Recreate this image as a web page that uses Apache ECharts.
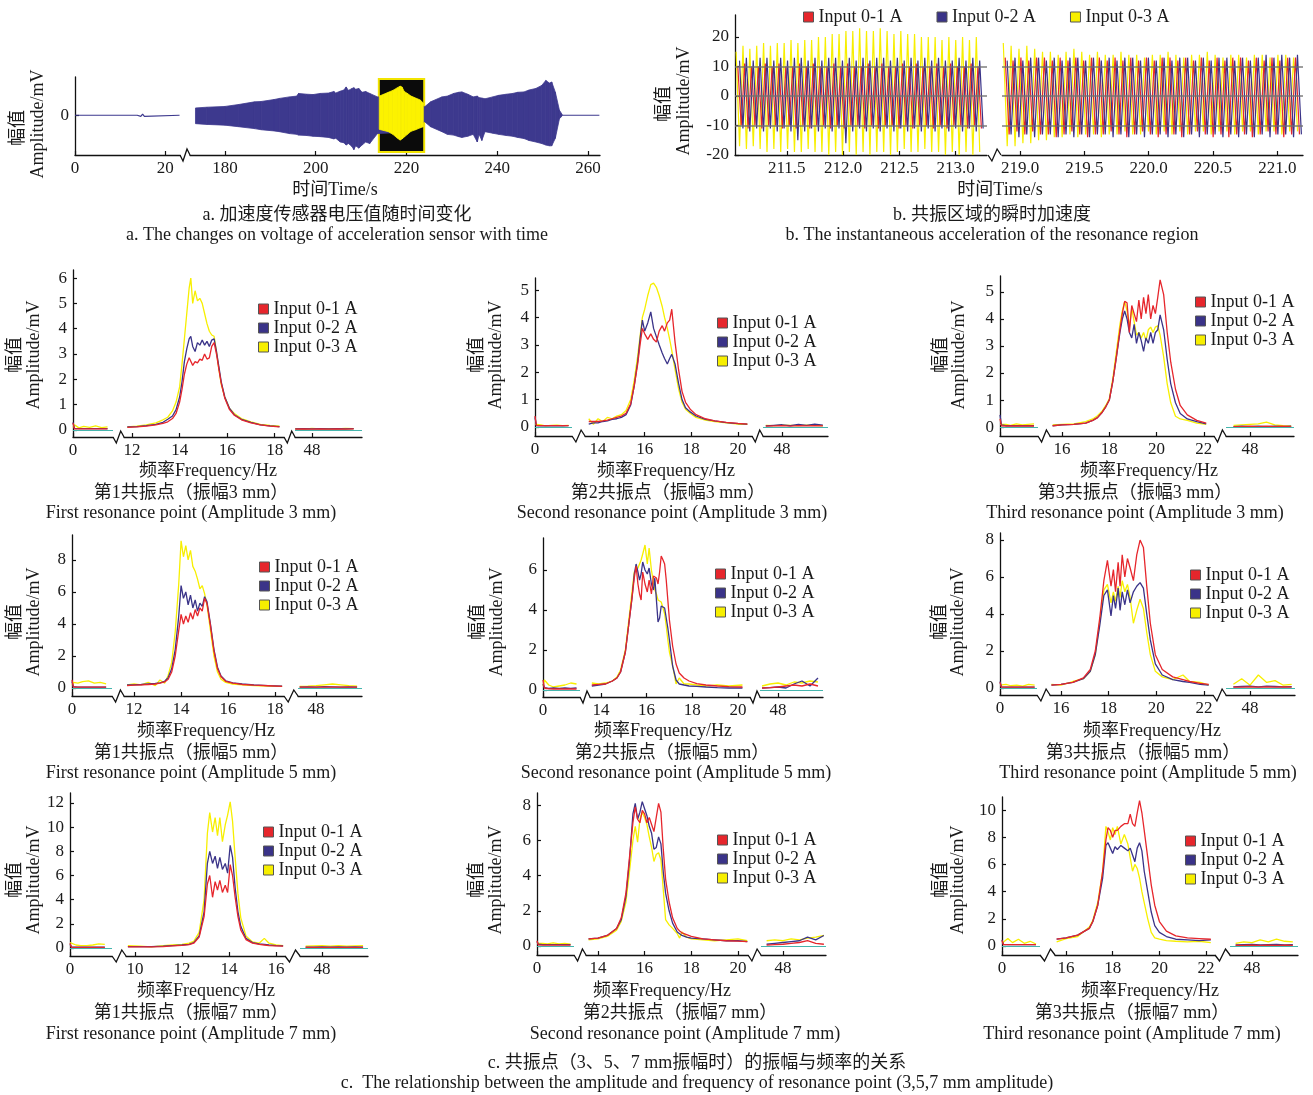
<!DOCTYPE html>
<html><head><meta charset="utf-8">
<script src="https://cdn.jsdelivr.net/npm/echarts@6/dist/echarts.min.js"></script>
<style>html,body{margin:0;padding:0;background:#fff}#c{width:1313px;height:1095px}</style>
</head><body><div id="c"></div>
<script>
// ======================= DATA =======================
const seriesNames = ['Input 0-1 A', 'Input 0-2 A', 'Input 0-3 A'];

// ---- Panel a: envelope of the accelerometer voltage over time ----
const aSeg1Time = [0, 13.8, 14.2, 14.6, 15.0, 15.4, 15.8, 23.2];
const aSeg1Val  = [0, 0, 0.03, -0.03, 0.03, -0.03, 0, 0];
const aEnvTime = [173.5,176,180,183,186.5,188,190.8,192,194.2,195.8,196.2,198,199.4,201,202.8,204,204.4,205.4,206.2,206.7,207.2,208.0,208.4,208.8,209.5,210.2,211.0,211.9,213.6,218.8,224.0,225.3,227.8,229,230.4,231.5,232.2,233.5,234.7,235.6,236.0,236.6,237.3,239,240.3,242,243.4,244.5,245.9,247,248.5,249.8,250.7,251.5,252.0,252.8,253.7,254.3];
const aEnvTop  = [0.19,0.21,0.23,0.28,0.35,0.36,0.41,0.44,0.48,0.5,0.57,0.55,0.54,0.57,0.58,0.62,0.58,0.63,0.66,0.74,0.65,0.7,0.72,0.68,0.7,0.6,0.62,0.57,0.48,0.5,0.22,0.35,0.48,0.5,0.57,0.6,0.61,0.55,0.48,0.5,0.46,0.45,0.43,0.48,0.52,0.55,0.57,0.6,0.61,0.66,0.7,0.78,0.91,0.84,0.87,0.6,0.13,0.02];
const aEnvBot  = [-0.22,-0.24,-0.26,-0.3,-0.35,-0.38,-0.41,-0.43,-0.48,-0.5,-0.52,-0.53,-0.55,-0.56,-0.58,-0.62,-0.6,-0.7,-0.72,-0.78,-0.74,-0.82,-0.9,-0.8,-0.86,-0.78,-0.7,-0.74,-0.48,-0.45,-0.17,-0.3,-0.43,-0.5,-0.52,-0.56,-0.58,-0.55,-0.5,-0.7,-0.5,-0.66,-0.43,-0.47,-0.5,-0.53,-0.55,-0.58,-0.61,-0.66,-0.7,-0.74,-0.78,-0.8,-0.8,-0.6,-0.09,-0.02];
const aFlatTime = [254.3, 262.5];
const aFlatVal  = [0, 0];
const aBoxTime  = [213.9, 223.9];
const aResTime = [214.0,215,216,217,218,218.6,219.0,219.5,220.2,221,222,223,223.7];
const aResTop  = [0.5,0.55,0.6,0.65,0.72,0.76,0.74,0.62,0.57,0.5,0.45,0.4,0.32];
const aResBot  = [-0.37,-0.4,-0.43,-0.5,-0.6,-0.65,-0.62,-0.57,-0.5,-0.42,-0.38,-0.33,-0.3];
const aTicksSeg1 = [0, 20];
const aTicksSeg2 = [180, 200, 220, 240, 260];

// ---- Panel b: instantaneous acceleration (extreme values read per half cycle) ----
const bStep = 0.0305;                 // time between successive extremes (s)
const bStartLeft  = [211.065, 211.08, 211.05];
const bStartRight = [218.885, 218.9, 218.87];
const bLeftPeak1 = [10,11,10,10,11,10,11,10,10,11,10,11,10,10,11,10,11,10,10,11,10,11,10,10,11,10,11,10,10,11,10,11,10,10,11,10];
const bLeftTrough1 = [-10,-11,-10,-11,-10,-10,-11,-10,-11,-10,-11,-10,-10,-11,-10,-11,-10,-10,-11,-10,-11,-10,-10,-11,-10,-11,-10,-10,-11,-10,-11,-10,-10,-11,-10,-11];
const bLeftPeak2 = [12,13,12,13,13,12,13,12,13,13,12,13,12,13,13,12,13,12,13,12,13,13,12,13,12,13,12,13,12,13,12,12,13,12,13,12];
const bLeftTrough2 = [-11,-12,-11,-12,-11,-12,-11,-12,-15,-12,-11,-12,-11,-12,-11,-16,-12,-11,-12,-11,-12,-11,-12,-11,-12,-11,-12,-11,-12,-11,-12,-11,-12,-11,-12,-11];
const bLeftPeak3 = [15,17,16,17,18,17,18,18,19,18,19,19,20,20,21,21,22,22,23,22,22,23,22,21,22,21,21,20,20,20,19,20,19,20,19,20];
const bLeftTrough3 = [-17,-18,-17,-18,-19,-18,-19,-18,-19,-19,-18,-19,-19,-20,-19,-20,-19,-20,-19,-20,-19,-19,-20,-19,-18,-19,-19,-18,-19,-19,-20,-19,-20,-19,-20,-19];
const bRightPeak1 = [13,12,13,12,13,13,12,13,12,13,12,13,13,12,13,12,13,12,13,12,13,13,12,13,12,13,12,13,12,13,13,12,13,12,13,12,13,13];
const bRightTrough1 = [-13,-12,-13,-12,-13,-13,-14,-13,-12,-13,-14,-13,-13,-12,-13,-14,-13,-12,-13,-14,-13,-13,-14,-13,-12,-13,-14,-13,-14,-13,-13,-14,-13,-12,-13,-14,-13,-13];
const bRightPeak2 = [12,13,12,13,13,12,13,12,13,13,12,13,12,13,12,13,13,12,13,12,13,12,13,13,12,13,12,13,13,12,13,12,13,14,13,14,13,14];
const bRightTrough2 = [-13,-14,-13,-14,-13,-13,-14,-13,-14,-13,-14,-13,-13,-14,-13,-14,-13,-14,-13,-13,-14,-13,-14,-13,-14,-13,-13,-14,-13,-14,-13,-14,-13,-14,-13,-13,-14,-13];
const bRightPeak3 = [18,17,16,17,16,15,15,14,15,16,15,14,15,14,14,15,14,14,13,14,14,15,14,13,14,14,15,14,13,14,14,13,14,14,13,14,14,13];
const bRightTrough3 = [-17,-17,-16,-16,-15,-15,-14,-14,-13,-14,-13,-13,-14,-13,-13,-12,-13,-13,-12,-13,-12,-13,-12,-13,-12,-12,-13,-12,-12,-13,-12,-12,-13,-12,-12,-13,-12,-12];
const bTicksY = [-20, -10, 0, 10, 20];
const bTicksSeg1 = [211.5, 212.0, 212.5, 213.0];
const bTicksSeg2 = [219.0, 219.5, 220.0, 220.5, 221.0];
const bGuideLevels = [10, 0, -10];

// ---- Panel c: amplitude vs frequency ----
const lowFreq  = [0, 0.06, 0.25, 0.45, 0.7, 0.95, 1.2, 1.45];
const highFreq = [47.3, 47.65, 48.0, 48.35, 48.7, 49.05, 49.4, 49.75];

// First resonance point, 3 mm
const r1a3Freq = [11.8,12.2,12.6,13.0,13.3,13.5,13.7,13.85,14.0,14.1,14.2,14.3,14.4,14.47,14.55,14.65,14.75,14.85,14.95,15.05,15.15,15.25,15.35,15.45,15.55,15.65,15.75,15.9,16.1,16.3,16.6,17.0,17.4,17.8,18.2];
const r1a3In1 = [0.1,0.12,0.15,0.2,0.26,0.32,0.45,0.65,1.1,1.6,2.2,2.6,2.85,2.9,2.55,2.7,2.65,2.8,2.75,3.0,2.8,2.85,3.3,3.45,3.0,2.4,1.85,1.25,0.8,0.58,0.4,0.28,0.2,0.15,0.12];
const r1a3In2 = [0.12,0.13,0.17,0.22,0.3,0.42,0.55,0.8,1.3,1.9,2.7,3.2,3.6,3.7,3.3,3.1,3.45,3.35,3.55,3.35,3.5,3.3,3.55,3.6,3.1,2.5,1.9,1.3,0.85,0.6,0.42,0.3,0.2,0.16,0.13];
const r1a3In3 = [0.12,0.15,0.2,0.28,0.4,0.5,0.75,1.1,1.7,2.6,3.6,4.6,5.6,6.0,5.0,5.5,5.1,5.2,5.0,4.6,4.2,3.9,3.75,3.7,3.1,2.4,1.8,1.3,0.85,0.65,0.45,0.32,0.22,0.18,0.15];
const r1a3Low1 = [0.28,0.04,0.04,0.04,0.04,0.04,0.04,0.04];
const r1a3Low2 = [0.3,0.06,0.05,0.05,0.05,0.05,0.05,0.05];
const r1a3Low3 = [0.1,0.2,0.08,0.14,0.1,0.16,0.09,0.12];
const r1a3High1 = [0.03,0.04,0.03,0.04,0.03,0.04,0.03,0.04];
const r1a3High2 = [0.04,0.05,0.04,0.05,0.04,0.05,0.04,0.05];
const r1a3High3 = [0.05,0.03,0.06,0.04,0.05,0.04,0.06,0.05];

// Second resonance point, 3 mm
const r2a3Freq = [13.6,13.8,14.0,14.2,14.4,14.6,14.8,15.0,15.2,15.4,15.55,15.7,15.8,15.9,16.0,16.13,16.26,16.38,16.5,16.62,16.75,16.85,16.97,17.07,17.16,17.3,17.45,17.6,17.75,17.95,18.2,18.6,19.0,19.5,20.0,20.4];
const r2a3In1 = [0.2,0.2,0.2,0.22,0.25,0.3,0.35,0.4,0.5,0.85,1.5,2.3,3.0,3.6,3.4,3.2,3.4,3.2,3.1,3.5,3.7,3.5,3.8,3.9,4.3,3.1,2.1,1.3,0.9,0.65,0.45,0.3,0.22,0.17,0.13,0.1];
const r2a3In2 = [0.1,0.15,0.15,0.2,0.22,0.28,0.3,0.35,0.45,0.8,1.5,2.4,3.2,3.9,3.5,3.8,4.2,3.6,3.3,3.0,2.7,2.5,2.3,2.5,2.65,2.3,1.6,1.0,0.7,0.55,0.4,0.28,0.22,0.16,0.12,0.1];
const r2a3In3 = [0.3,0.1,0.3,0.2,0.35,0.3,0.4,0.45,0.6,1.0,1.7,2.6,3.3,4.0,4.3,4.8,5.2,5.25,5.1,4.8,4.4,4.0,3.6,3.2,2.8,2.1,1.4,0.9,0.65,0.5,0.35,0.25,0.2,0.15,0.1,0.1];
const r2a3Low1 = [0.4,0.06,0.05,0.05,0.05,0.05,0.05,0.05];
const r2a3Low2 = [0.35,0.05,0.04,0.05,0.04,0.05,0.04,0.05];
const r2a3Low3 = [0.1,0.05,0.08,0.04,0.06,0.07,0.05,0.06];
const r2a3High1 = [0.03,0.04,0.05,0.03,0.05,0.04,0.05,0.04];
const r2a3High2 = [0.04,0.06,0.08,0.05,0.09,0.06,0.1,0.07];
const r2a3High3 = [0.06,0.05,0.07,0.06,0.05,0.07,0.06,0.05];

// Third resonance point, 3 mm
const r3a3Freq = [15.6,16.0,16.5,17.0,17.3,17.5,17.7,17.85,18.0,18.15,18.3,18.45,18.55,18.65,18.75,18.85,18.95,19.05,19.15,19.25,19.35,19.45,19.55,19.65,19.75,19.85,19.95,20.05,20.15,20.3,20.45,20.6,20.8,21.0,21.3,21.7,22.1];
const r3a3In1 = [0.05,0.08,0.1,0.15,0.25,0.35,0.55,0.75,1.0,1.7,2.6,3.6,4.2,4.65,4.6,3.5,4.5,4.2,3.9,4.7,4.0,4.8,4.2,4.9,4.0,4.5,4.2,4.8,5.45,4.9,3.5,2.4,1.4,0.8,0.45,0.25,0.15];
const r3a3In2 = [0.05,0.08,0.1,0.15,0.25,0.35,0.55,0.75,1.0,1.7,2.6,3.5,4.0,4.3,4.0,3.5,3.3,3.8,3.1,3.5,3.2,2.8,3.3,3.1,3.5,3.1,3.5,3.6,4.15,3.6,2.5,1.6,0.9,0.5,0.3,0.2,0.12];
const r3a3In3 = [0.08,0.1,0.12,0.2,0.3,0.42,0.6,0.8,1.05,1.8,2.8,3.8,4.3,4.65,4.3,3.7,4.4,3.9,3.4,3.5,3.3,3.5,3.2,3.6,3.7,3.5,3.7,3.75,3.4,2.6,1.6,0.9,0.4,0.3,0.25,0.15,0.1];
const r3a3Low1 = [0.3,0.05,0.04,0.04,0.04,0.04,0.04,0.04];
const r3a3Low2 = [0.45,0.08,0.05,0.05,0.05,0.05,0.05,0.05];
const r3a3Low3 = [0.1,0.05,0.1,0.06,0.12,0.08,0.1,0.12];
const r3a3High1 = [0.02,0.02,0.03,0.02,0.03,0.02,0.03,0.02];
const r3a3High2 = [0.02,0.03,0.02,0.03,0.02,0.03,0.02,0.03];
const r3a3High3 = [0.06,0.08,0.1,0.12,0.18,0.08,0.05,0.04];

// First resonance point, 5 mm
const r1a5Freq = [11.7,12.0,12.3,12.6,12.9,13.1,13.3,13.45,13.6,13.75,13.9,14.0,14.1,14.2,14.3,14.4,14.5,14.6,14.7,14.8,14.9,15.0,15.1,15.25,15.4,15.55,15.7,15.9,16.2,16.6,17.1,17.7,18.3];
const r1a5In1 = [0.15,0.18,0.2,0.22,0.25,0.3,0.38,0.55,1.0,2.0,3.6,4.6,4.0,4.5,4.1,4.7,4.3,4.9,4.5,5.0,4.8,5.6,5.3,3.9,2.3,1.2,0.7,0.42,0.3,0.22,0.18,0.14,0.1];
const r1a5In2 = [0.2,0.2,0.22,0.25,0.28,0.32,0.42,0.65,1.2,2.4,4.5,6.4,5.6,6.0,5.2,5.8,5.0,5.5,4.8,5.3,5.1,5.7,5.4,4.0,2.4,1.3,0.75,0.45,0.32,0.25,0.2,0.15,0.12];
const r1a5In3 = [0.2,0.25,0.2,0.35,0.15,0.5,0.3,0.8,1.6,3.5,6.5,9.2,8.2,8.9,8.0,8.6,7.6,7.3,6.8,6.2,6.4,5.9,5.2,3.6,2.0,1.0,0.55,0.35,0.25,0.2,0.15,0.12,0.1];
const r1a5Low1 = [0.5,0.06,0.05,0.05,0.05,0.05,0.05,0.05];
const r1a5Low2 = [0.4,0.08,0.06,0.06,0.06,0.06,0.06,0.06];
const r1a5Low3 = [0.2,0.35,0.3,0.4,0.45,0.3,0.35,0.25];
const r1a5High1 = [0.05,0.05,0.06,0.05,0.06,0.05,0.06,0.05];
const r1a5High2 = [0.06,0.07,0.06,0.08,0.07,0.06,0.07,0.06];
const r1a5High3 = [0.1,0.12,0.15,0.2,0.25,0.2,0.15,0.12];

// Second resonance point, 5 mm
const r2a5Freq = [13.6,13.9,14.2,14.5,14.7,14.86,15.07,15.21,15.36,15.46,15.54,15.62,15.69,15.76,15.83,15.93,16.03,16.11,16.21,16.3,16.36,16.43,16.5,16.57,16.64,16.72,16.79,16.86,16.93,17.0,17.14,17.29,17.43,17.64,17.86,18.2,18.6,19.1,19.6,20.2];
const r2a5In1 = [0.25,0.28,0.3,0.45,0.6,0.9,1.9,3.2,4.6,5.6,6.2,5.3,4.8,4.5,5.9,5.3,4.9,5.5,4.8,5.7,5.8,5.6,5.3,5.9,6.7,6.5,6.3,5.5,4.5,3.5,2.2,1.3,0.85,0.6,0.45,0.32,0.25,0.2,0.17,0.15];
const r2a5In2 = [0.2,0.25,0.3,0.45,0.6,0.9,1.9,3.2,4.6,5.8,6.3,5.9,5.5,5.8,6.4,6.0,5.8,6.1,5.3,5.0,5.6,4.5,3.4,3.6,4.2,4.2,4.1,3.6,3.1,2.5,1.2,0.5,0.3,0.25,0.2,0.18,0.15,0.12,0.1,0.1];
const r2a5In3 = [0.35,0.3,0.35,0.45,0.65,1.0,2.0,3.4,4.9,5.9,6.0,6.1,6.2,6.5,6.8,7.25,6.3,7.1,6.0,5.4,5.0,4.8,4.5,4.4,4.4,4.1,3.8,3.2,2.5,1.9,1.2,0.3,0.6,0.3,0.3,0.25,0.2,0.25,0.2,0.25];
const r2a5Low1 = [0.5,0.1,0.06,0.05,0.06,0.05,0.06,0.05];
const r2a5Low2 = [0.3,0.12,0.08,0.1,0.08,0.1,0.08,0.1];
const r2a5Low3 = [0.2,0.5,0.25,0.15,0.2,0.25,0.35,0.3];
const r2a5High1 = [0.1,0.12,0.15,0.2,0.25,0.2,0.3,0.2];
const r2a5High2 = [0.1,0.12,0.15,0.1,0.3,0.45,0.2,0.6];
const r2a5High3 = [0.2,0.3,0.35,0.25,0.4,0.35,0.45,0.4];

// Third resonance point, 5 mm
const r3a5Freq = [15.6,16.0,16.5,16.94,17.23,17.44,17.63,17.8,17.95,18.1,18.2,18.29,18.4,18.48,18.57,18.68,18.79,18.9,19.04,19.18,19.32,19.46,19.6,19.75,19.96,20.25,20.69,21.12,21.4,21.84,22.2];
const r3a5In1 = [0.15,0.2,0.3,0.55,1.0,2.0,3.8,5.8,6.9,5.5,6.4,5.2,6.8,5.5,7.2,6.0,7.0,6.5,5.8,7.2,8.0,7.6,5.5,3.5,1.8,1.0,0.6,0.45,0.35,0.25,0.2];
const r3a5In2 = [0.15,0.2,0.3,0.5,0.9,1.8,3.4,5.0,5.3,3.9,5.0,4.3,5.4,4.2,5.2,4.5,5.3,4.6,5.2,5.5,5.7,5.4,4.0,2.6,1.3,0.7,0.45,0.35,0.3,0.2,0.15];
const r3a5In3 = [0.2,0.15,0.35,0.5,0.9,1.8,3.6,5.3,5.6,4.6,5.2,4.7,5.5,4.9,5.8,5.2,5.6,4.9,3.5,4.2,4.8,4.3,3.0,1.8,0.9,0.6,0.45,0.7,0.35,0.3,0.15];
const r3a5Low1 = [0.3,0.05,0.05,0.05,0.05,0.05,0.05,0.05];
const r3a5Low2 = [0.35,0.06,0.05,0.05,0.05,0.05,0.05,0.05];
const r3a5Low3 = [0.15,0.1,0.2,0.12,0.15,0.1,0.2,0.15];
const r3a5High1 = [0.05,0.05,0.06,0.05,0.06,0.05,0.06,0.05];
const r3a5High2 = [0.06,0.08,0.1,0.06,0.1,0.08,0.06,0.07];
const r3a5High3 = [0.2,0.5,0.15,0.7,0.3,0.4,0.15,0.2];

// First resonance point, 7 mm
const r1a7Freq = [9.7,10.2,10.7,11.2,11.6,12.0,12.3,12.5,12.73,12.94,13.08,13.18,13.3,13.41,13.51,13.61,13.72,13.84,13.94,14.05,14.15,14.26,14.38,14.5,14.72,15.0,15.28,15.5,15.7,16.0,16.3];
const r1a7In1 = [0.1,0.1,0.1,0.12,0.18,0.22,0.28,0.4,0.9,2.6,5.3,6.0,4.2,5.5,4.8,5.6,4.6,5.2,4.6,6.9,6.0,4.2,2.6,1.5,0.7,0.4,0.3,0.25,0.2,0.18,0.15];
const r1a7In2 = [0.12,0.12,0.12,0.15,0.2,0.25,0.3,0.45,1.0,3.0,7.0,8.0,7.0,7.6,6.6,7.5,6.5,7.0,6.2,8.5,7.5,5.0,3.0,1.8,0.8,0.45,0.35,0.3,0.25,0.2,0.18];
const r1a7In3 = [0.2,0.15,0.1,0.2,0.25,0.3,0.4,0.55,1.3,4.0,9.5,11.2,9.6,10.8,9.3,10.8,8.8,10.2,11.0,12.1,10.5,7.5,4.5,2.5,1.0,0.5,0.4,0.8,0.4,0.25,0.2];
const r1a7Low1 = [0.4,0.06,0.05,0.05,0.05,0.05,0.05,0.05];
const r1a7Low2 = [0.3,0.1,0.08,0.08,0.08,0.08,0.08,0.08];
const r1a7Low3 = [0.45,0.3,0.25,0.2,0.2,0.25,0.35,0.3];
const r1a7High1 = [0.05,0.05,0.06,0.05,0.06,0.05,0.06,0.05];
const r1a7High2 = [0.08,0.08,0.1,0.08,0.1,0.08,0.1,0.08];
const r1a7High3 = [0.15,0.18,0.2,0.15,0.2,0.15,0.18,0.2];

// Second resonance point, 7 mm
const r2a7Freq = [13.6,14.0,14.4,14.8,15.0,15.2,15.35,15.5,15.6,15.7,15.8,15.9,16.0,16.1,16.2,16.3,16.4,16.5,16.6,16.7,16.8,16.9,17.05,17.2,17.4,17.5,17.6,17.8,18.0,18.5,19.0,19.5,20.0,20.4];
const r2a7In1 = [0.4,0.45,0.6,1.0,1.6,3.0,5.0,7.0,7.9,7.2,7.0,7.7,7.5,7.0,7.3,6.9,6.5,7.3,8.1,7.6,5.5,3.8,2.5,1.6,1.0,0.85,0.75,0.65,0.55,0.4,0.35,0.3,0.28,0.25];
const r2a7In2 = [0.4,0.45,0.6,1.0,1.5,2.8,4.8,7.5,8.1,7.2,7.6,8.2,7.8,7.4,6.8,6.4,5.5,5.6,6.2,5.8,4.2,3.0,2.0,1.3,0.8,0.7,0.6,0.5,0.45,0.4,0.35,0.3,0.3,0.25];
const r2a7In3 = [0.35,0.4,0.55,0.9,1.4,2.5,4.2,6.0,6.8,5.9,7.2,7.6,7.3,6.9,6.2,5.6,4.8,5.2,5.3,4.9,3.2,1.5,1.2,1.0,0.7,0.45,0.8,0.5,0.4,0.35,0.3,0.35,0.4,0.3];
const r2a7Low1 = [0.3,0.06,0.05,0.05,0.05,0.05,0.05,0.05];
const r2a7Low2 = [0.25,0.1,0.08,0.08,0.08,0.08,0.08,0.08];
const r2a7Low3 = [0.15,0.1,0.15,0.12,0.18,0.12,0.15,0.1];
const r2a7High1 = [0.05,0.08,0.1,0.15,0.2,0.3,0.15,0.1];
const r2a7High2 = [0.1,0.15,0.2,0.25,0.3,0.5,0.35,0.6];
const r2a7High3 = [0.3,0.35,0.3,0.4,0.35,0.45,0.5,0.6];

// Third resonance point, 7 mm
const r3a7Freq = [15.6,16.0,16.5,17.0,17.15,17.36,17.57,17.71,17.8,17.9,18.0,18.1,18.2,18.35,18.5,18.65,18.75,18.85,18.95,19.05,19.15,19.25,19.35,19.5,19.65,19.8,20.0,20.3,20.7,21.2,21.7,22.2];
const r3a7In1 = [0.5,0.6,0.8,1.3,1.8,3.0,5.5,7.8,8.7,8.5,8.0,8.5,8.5,8.8,9.0,9.0,9.7,9.0,8.8,9.8,10.7,9.8,8.5,6.5,4.5,3.0,1.8,1.1,0.75,0.6,0.55,0.5];
const r3a7In2 = [0.5,0.6,0.8,1.3,1.8,3.0,5.0,7.4,7.6,7.2,6.8,7.3,7.1,7.4,7.2,7.0,7.2,6.7,6.2,7.2,7.6,7.0,5.5,4.0,2.5,1.5,1.0,0.7,0.5,0.45,0.4,0.45];
const r3a7In3 = [0.3,0.55,0.7,1.4,1.9,3.2,5.5,8.8,8.4,7.8,8.7,8.2,8.8,7.5,8.2,7.5,6.5,5.5,6.0,5.7,5.0,4.0,3.2,2.0,1.0,0.6,0.5,0.4,0.35,0.3,0.35,0.25];
const r3a7Low1 = [0.4,0.1,0.1,0.1,0.1,0.1,0.1,0.1];
const r3a7Low2 = [0.45,0.12,0.1,0.1,0.1,0.1,0.1,0.1];
const r3a7Low3 = [0.2,0.3,0.55,0.25,0.5,0.2,0.35,0.15];
const r3a7High1 = [0.05,0.05,0.06,0.05,0.06,0.05,0.06,0.05];
const r3a7High2 = [0.08,0.1,0.12,0.08,0.1,0.12,0.08,0.1];
const r3a7High3 = [0.2,0.3,0.25,0.45,0.3,0.5,0.35,0.3];

// tick labels
const ticksX_12_18 = [12, 14, 16, 18];
const ticksX_14_20 = [14, 16, 18, 20];
const ticksX_16_22 = [16, 18, 20, 22];
const ticksX_10_16 = [10, 12, 14, 16];
const ticksLow = [0];
const ticksHigh = [48];
const ticksY6 = [0,1,2,3,4,5,6];
const ticksY5 = [0,1,2,3,4,5];
const ticksY8 = [0,2,4,6,8];
const ticksY6b = [0,2,4,6];
const ticksY12 = [0,2,4,6,8,10,12];
const ticksY10 = [0,2,4,6,8,10];

// texts
const capCN = ['第1共振点（振幅3 mm）','第2共振点（振幅3 mm）','第3共振点（振幅3 mm）','第1共振点（振幅5 mm）','第2共振点（振幅5 mm）','第3共振点（振幅5 mm）','第1共振点（振幅7 mm）','第2共振点（振幅7 mm）','第3共振点（振幅7 mm）'];
const capEN = ['First resonance point (Amplitude 3 mm)','Second resonance point (Amplitude 3 mm)','Third resonance point (Amplitude 3 mm)','First resonance point (Amplitude 5 mm)','Second resonance point (Amplitude 5 mm)','Third resonance point (Amplitude 5 mm)','First resonance point (Amplitude 7 mm)','Second resonance point (Amplitude 7 mm)','Third resonance point (Amplitude 7 mm)'];

// ======================= BUILD =======================
const COLORS = ['#e6262c', '#3a3388', '#f7ef00'];
const FONT = '"Liberation Serif","Noto Sans CJK SC",serif';
const TXT = '#1a1a1a';
const TICK_FS = 17;
const grids = [], xAxes = [], yAxes = [], series = [], graphics = [], legends = [];

function pairs(xs, ys) { const n = Math.min(xs.length, ys.length); const o = []; for (let i = 0; i < n; i++) o.push([xs[i], ys[i]]); return o; }
function triples(xs, a, b) { const n = Math.min(xs.length, a.length, b.length); const o = []; for (let i = 0; i < n; i++) o.push([xs[i], a[i], b[i]]); return o; }
function osc(t0, peaks, troughs) { const o = []; for (let i = 0; i < peaks.length; i++) { o.push([t0 + 2 * i * bStep, peaks[i]]); o.push([t0 + (2 * i + 1) * bStep, troughs[i]]); } return o; }

function addGrid(g) {
  const gi = grids.length;
  grids.push({ left: g.x0, top: g.top, width: g.x1 - g.x0, height: g.bot - g.top, outerBoundsMode: 'none', containLabel: false, show: false });
  xAxes.push({ type: 'value', gridIndex: gi, min: g.xMin, max: g.xMax, position: 'bottom',
    axisLine: { show: true, onZero: false, lineStyle: { color: '#111', width: 1.3 } },
    axisTick: { show: true, inside: true, length: 4, customValues: g.xTicks, lineStyle: { color: '#111', width: 1.2 } },
    axisLabel: { show: true, customValues: g.xTicks, formatter: g.xFmt || (v => String(v)), margin: 5, fontFamily: FONT, fontSize: TICK_FS, color: TXT },
    splitLine: { show: false } });
  yAxes.push({ type: 'value', gridIndex: gi, min: g.yMin, max: g.yMax, show: !!g.showY, position: 'left',
    axisLine: { show: true, onZero: false, lineStyle: { color: '#111', width: 1.3 } },
    axisTick: { show: true, inside: true, length: 4, customValues: g.yTicks, lineStyle: { color: '#111', width: 1.2 } },
    axisLabel: { show: true, customValues: g.yTicks, margin: 6, fontFamily: FONT, fontSize: TICK_FS, color: TXT },
    splitLine: { show: false } });
  return gi;
}
function line(gi, data, color, name, extra) {
  const s = { type: 'line', xAxisIndex: gi, yAxisIndex: gi, data: data, symbol: 'none', showSymbol: false, silent: true,
    color: color, lineStyle: { color: color, width: 1.3 }, itemStyle: { color: color }, z: 2, animation: false };
  if (name) s.name = name;
  return Object.assign(s, extra || {});
}
function band(gi, data, color, z) {
  return { type: 'custom', coordinateSystem: 'cartesian2d', xAxisIndex: gi, yAxisIndex: gi, data: data, z: z, silent: true, animation: false,
    encode: { x: 0, y: [1, 2] },
    renderItem: function (params, api) {
      const i = params.dataIndexInside;
      if (i >= params.dataInsideLength - 1) return null;
      const p1 = api.coord([api.value(0, i), api.value(1, i)]);
      const p2 = api.coord([api.value(0, i + 1), api.value(1, i + 1)]);
      const p3 = api.coord([api.value(0, i + 1), api.value(2, i + 1)]);
      const p4 = api.coord([api.value(0, i), api.value(2, i)]);
      return { type: 'polygon', shape: { points: [p1, p2, p3, p4] }, style: { fill: color, stroke: color, lineWidth: 0.8 } };
    } };
}
function txt(s, x, y, size, rot) {
  graphics.push({ type: 'text', x: x, y: y, rotation: rot ? Math.PI / 2 : 0, silent: true,
    style: { text: s, textAlign: 'center', textVerticalAlign: 'middle', align: 'center', verticalAlign: 'middle',
      font: size + 'px "Liberation Serif","Noto Sans CJK SC",serif', fill: TXT } });
}
function brk(x1, x2, y) {
  const g = x2 - x1;
  graphics.push({ type: 'polyline', silent: true, shape: { points: [[x1, y], [x1 + g * 0.3, y + 6], [x1 + g * 0.7, y - 6], [x2, y]] },
    style: { stroke: '#111', lineWidth: 1.3, fill: null } });
}
function legendAt(left, top, orient, gap) {
  legends.push({ data: seriesNames, orient: orient, left: left, top: top, padding: 0, icon: 'rect', itemWidth: 10, itemHeight: 10,
    itemGap: gap, selectedMode: false, textStyle: { fontFamily: FONT, fontSize: 18, lineHeight: 18, color: TXT },
    itemStyle: { borderColor: '#555', borderWidth: 1 } });
}

// ---------- Panel a ----------
{
  const base = { top: 77, bot: 155, yMin: -1.04, yMax: 1, yTicks: [0] };
  const g1 = addGrid(Object.assign({ x0: 75, x1: 180, xMin: 0, xMax: 23.3, xTicks: aTicksSeg1, showY: true }, base));
  const g2 = addGrid(Object.assign({ x0: 190, x1: 600, xMin: 172.29, xMax: 262.64, xTicks: aTicksSeg2, showY: false }, base));
  const purple = '#3d398e', yel = '#fcf200';
  series.push(line(g1, pairs(aSeg1Time, aSeg1Val), purple, null, { lineStyle: { color: purple, width: 1.2 } }));
  series.push(band(g2, triples(aEnvTime, aEnvTop, aEnvBot), purple, 2));
  series.push(line(g2, pairs(aFlatTime, aFlatVal), purple, null, { lineStyle: { color: purple, width: 1.2 } }));
  series.push(line(g2, [], yel, null, { z: 3, markArea: { silent: true, itemStyle: { color: '#0b0b0b', borderColor: '#f2e400', borderWidth: 2 },
    data: [[{ xAxis: aBoxTime[0], yAxis: 0.95 }, { xAxis: aBoxTime[1], yAxis: -0.96 }]] } }));
  series.push(band(g2, triples(aResTime, aResTop, aResBot), yel, 5));
  brk(180, 190, 155);
  txt('幅值', 18, 128, 18, true);
  txt('Amplitude/mV', 38, 124, 18, true);
  txt('时间Time/s', 335, 190, 18);
  txt('a. 加速度传感器电压值随时间变化', 337, 215, 18);
  txt('a. The changes on voltage of acceleration sensor with time', 337, 235, 18);
}

// ---------- Panel b ----------
{
  const base = { top: 15, bot: 155, yMin: -20, yMax: 27.46, yTicks: bTicksY, xFmt: v => v.toFixed(1) };
  const g1 = addGrid(Object.assign({ x0: 735, x1: 987, xMin: 211.04, xMax: 213.28, xTicks: bTicksSeg1, showY: true }, base));
  const g2 = addGrid(Object.assign({ x0: 1002, x1: 1303, xMin: 218.86, xMax: 221.2, xTicks: bTicksSeg2, showY: false }, base));
  const left = [[bLeftPeak1, bLeftTrough1], [bLeftPeak2, bLeftTrough2], [bLeftPeak3, bLeftTrough3]];
  const right = [[bRightPeak1, bRightTrough1], [bRightPeak2, bRightTrough2], [bRightPeak3, bRightTrough3]];
  const guide = { silent: true, symbol: 'none', label: { show: false }, lineStyle: { color: '#6f6f6f', width: 1.6, type: 'solid', opacity: 0.9 },
    data: bGuideLevels.map(v => ({ yAxis: v })) };
  [2, 0, 1].forEach((k, idx) => {
    const extra = { lineStyle: { color: COLORS[k], width: 1.2 }, z: 2 + idx };
    series.push(line(g1, osc(bStartLeft[k], left[k][0], left[k][1]), COLORS[k], seriesNames[k], Object.assign({}, extra, k === 1 ? { markLine: guide } : {})));
    series.push(line(g2, osc(bStartRight[k], right[k][0], right[k][1]), COLORS[k], seriesNames[k], Object.assign({}, extra, k === 1 ? { markLine: guide } : {})));
  });
  brk(988, 1001, 155);
  legendAt(803, 8, 'horizontal', 34);
  txt('幅值', 664, 104, 18, true);
  txt('Amplitude/mV', 684, 101, 18, true);
  txt('时间Time/s', 1000, 190, 18);
  txt('b. 共振区域的瞬时加速度', 992, 215, 18);
  txt('b. The instantaneous acceleration of the resonance region', 992, 235, 18);
}

// ---------- Panel c ----------
const freqData = [
  { f: r1a3Freq, ins: [r1a3In1, r1a3In2, r1a3In3], lows: [r1a3Low1, r1a3Low2, r1a3Low3], highs: [r1a3High1, r1a3High2, r1a3High3], xt: ticksX_12_18, yt: ticksY6 },
  { f: r2a3Freq, ins: [r2a3In1, r2a3In2, r2a3In3], lows: [r2a3Low1, r2a3Low2, r2a3Low3], highs: [r2a3High1, r2a3High2, r2a3High3], xt: ticksX_14_20, yt: ticksY5 },
  { f: r3a3Freq, ins: [r3a3In1, r3a3In2, r3a3In3], lows: [r3a3Low1, r3a3Low2, r3a3Low3], highs: [r3a3High1, r3a3High2, r3a3High3], xt: ticksX_16_22, yt: ticksY5 },
  { f: r1a5Freq, ins: [r1a5In1, r1a5In2, r1a5In3], lows: [r1a5Low1, r1a5Low2, r1a5Low3], highs: [r1a5High1, r1a5High2, r1a5High3], xt: ticksX_12_18, yt: ticksY8 },
  { f: r2a5Freq, ins: [r2a5In1, r2a5In2, r2a5In3], lows: [r2a5Low1, r2a5Low2, r2a5Low3], highs: [r2a5High1, r2a5High2, r2a5High3], xt: ticksX_14_20, yt: ticksY6b },
  { f: r3a5Freq, ins: [r3a5In1, r3a5In2, r3a5In3], lows: [r3a5Low1, r3a5Low2, r3a5Low3], highs: [r3a5High1, r3a5High2, r3a5High3], xt: ticksX_16_22, yt: ticksY8 },
  { f: r1a7Freq, ins: [r1a7In1, r1a7In2, r1a7In3], lows: [r1a7Low1, r1a7Low2, r1a7Low3], highs: [r1a7High1, r1a7High2, r1a7High3], xt: ticksX_10_16, yt: ticksY12 },
  { f: r2a7Freq, ins: [r2a7In1, r2a7In2, r2a7In3], lows: [r2a7Low1, r2a7Low2, r2a7Low3], highs: [r2a7High1, r2a7High2, r2a7High3], xt: ticksX_14_20, yt: ticksY8 },
  { f: r3a7Freq, ins: [r3a7In1, r3a7In2, r3a7In3], lows: [r3a7Low1, r3a7Low2, r3a7Low3], highs: [r3a7High1, r3a7High2, r3a7High3], xt: ticksX_16_22, yt: ticksY10 }
];
// layout (pixels) per panel
const freqLayout = [
  { top: 270, bot: 437, yMin: -0.28, yMax: 6.32, segs: [[73,113,0,1.68],[124,284,11.66,18.39],[295,362,47.29,50.1]], leg: [258,300], yt: [15,34,355], xl: [208,471], cap: [191,493,191,513] },
  { top: 278, bot: 436, yMin: -0.33, yMax: 5.44, segs: [[535,572,0,1.6],[585,752,13.44,20.6],[763,828,47.18,49.97]], leg: [717,314], yt: [477,496,355], xl: [666,471], cap: [668,493,672,513] },
  { top: 276, bot: 436, yMin: -0.33, yMax: 5.59, segs: [[1000,1038,0,1.62],[1050,1214,15.49,22.43],[1226,1294,46.98,49.87]], leg: [1195,293], yt: [941,959,355], xl: [1149,471], cap: [1135,493,1135,513] },
  { top: 535, bot: 696, yMin: -0.5, yMax: 9.56, segs: [[72,112,0,1.7],[124,284,11.57,18.38],[298,362,47.23,49.96]], leg: [259,558], yt: [15,34,622], xl: [206,731], cap: [191,753,191,773] },
  { top: 538, bot: 697, yMin: -0.35, yMax: 7.6, segs: [[543,580,0,1.6],[590,750,13.52,20.53],[760,823,47.21,49.97]], leg: [715,565], yt: [478,497,622], xl: [663,731], cap: [672,753,676,773] },
  { top: 533, bot: 695, yMin: -0.38, yMax: 8.38, segs: [[1000,1037,0,1.55],[1050,1213,15.54,22.38],[1226,1295,46.99,49.89]], leg: [1190,566], yt: [940,958,622], xl: [1152,731], cap: [1143,753,1148,773] },
  { top: 793, bot: 956, yMin: -0.66, yMax: 12.83, segs: [[70,112,0,1.75],[126,285,9.62,16.38],[300,368,47.06,49.96]], leg: [263,823], yt: [15,34,880], xl: [206,991], cap: [191,1013,191,1034] },
  { top: 793, bot: 955, yMin: -0.51, yMax: 8.69, segs: [[537,574,0,1.6],[586,748,13.49,20.43],[761,826,47.06,49.84]], leg: [717,831], yt: [477,496,880], xl: [662,991], cap: [680,1013,685,1034] },
  { top: 797, bot: 955, yMin: -0.66, yMax: 10.96, segs: [[1002,1040,0,1.62],[1055,1215,15.53,22.38],[1230,1298,47.06,49.97]], leg: [1185,832], yt: [941,958,880], xl: [1150,991], cap: [1132,1013,1132,1034] }
];

freqData.forEach((p, pi) => {
  const L = freqLayout[pi];
  const segTicks = [ticksLow, p.xt, ticksHigh];
  const segX = [lowFreq, p.f, highFreq];
  const segY = [p.lows, p.ins, p.highs];
  L.segs.forEach((s, si) => {
    const gi = addGrid({ x0: s[0], x1: s[1], top: L.top, bot: L.bot, xMin: s[2], xMax: s[3], xTicks: segTicks[si],
      yMin: L.yMin, yMax: L.yMax, yTicks: p.yt, showY: si === 0 });
    [2, 1, 0].forEach((k, idx) => {
      const extra = { z: 2 + idx };
      if (si !== 1 && k === 2) {
        extra.markLine = { silent: true, symbol: 'none', label: { show: false }, lineStyle: { color: '#45b5ad', width: 1, type: 'solid' }, data: [{ yAxis: 0 }] };
      }
      series.push(line(gi, pairs(segX[si], segY[si][k]), COLORS[k], seriesNames[k], extra));
    });
  });
  brk(L.segs[0][1], L.segs[1][0], L.bot);
  brk(L.segs[1][1], L.segs[2][0], L.bot);
  legendAt(L.leg[0], L.leg[1], 'vertical', 1);
  txt('幅值', L.yt[0], L.yt[2], 18, true);
  txt('Amplitude/mV', L.yt[1], L.yt[2], 18, true);
  txt('频率Frequency/Hz', L.xl[0], L.xl[1], 18);
  txt(capCN[pi], L.cap[0], L.cap[1], 18);
  txt(capEN[pi], L.cap[2], L.cap[3], 18);
});

txt('c. 共振点（3、5、7 mm振幅时）的振幅与频率的关系', 697, 1063, 18);
txt('c.  The relationship between the amplitude and frequency of resonance point (3,5,7 mm amplitude)', 697, 1083, 18);

const chart = echarts.init(document.getElementById('c'), null, { renderer: 'canvas' });
chart.setOption({ animation: false, backgroundColor: '#ffffff', grid: grids, xAxis: xAxes, yAxis: yAxes, series: series, legend: legends, graphic: { elements: graphics } });
</script>
</body></html>
